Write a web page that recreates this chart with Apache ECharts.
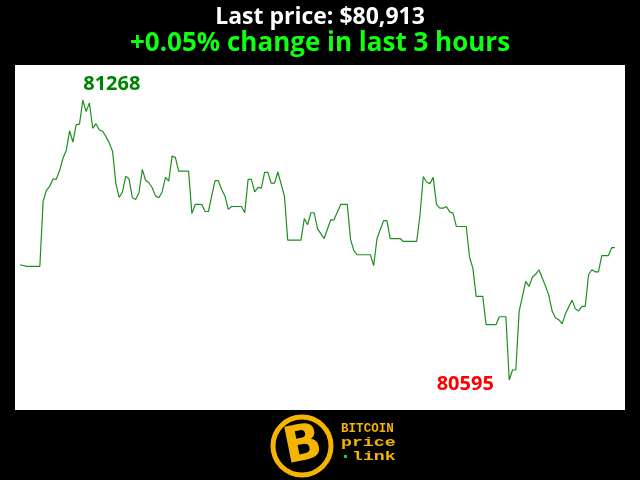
<!DOCTYPE html>
<html>
<head>
<meta charset="utf-8">
<script src="https://cdn.jsdelivr.net/npm/echarts@6/dist/echarts.min.js"></script>
<style>html,body{margin:0;padding:0;background:#000;}#c{width:640px;height:480px;}</style>
</head>
<body>
<div id="c"></div>
<script>
// minutes since start of the 3-hour window
var minutes = [0,2,6,7,8,9,10,11,12,13,14,15,16,17,18,19,20,21,22,23,24,25,26,27,28,29,30,31,32,33,34,35,36,37,38,39,40,41,42,43,44,45,46,47,48,51,52,53,55,56,57,59,60,61,62,63,64,67,68,69,70,71,72,73,74,75,76,77,78,80,81,85,86,87,88,89,90,92,94,95,97,99,100,101,102,106,107,108,110,111,112,115,116,120,121,122,123,124,125,126,127,128,129,130,131,132,135,136,137,138,140,141,144,145,147,148,149,150,151,153,154,155,156,157,158,159,160,161,162,163,164,165,167,168,169,170,171,172,173,174,175,176,178,179,180];
// BTC price (USD)
var prices = [80872,80868,80868,81025,81051,81061,81078,81078,81099,81128,81147,81194,81167,81209,81210,81268,81240,81261,81200,81211,81196,81193,81180,81165,81145,81067,81034,81047,81085,81078,81033,81029,81045,81101,81075,81069,81057,81037,81033,81047,81082,81073,81133,81130,81097,81097,80995,81017,81017,81000,81000,81074,81074,81053,81037,81005,81012,81012,80997,81077,81077,81047,81058,81056,81094,81094,81068,81068,81095,81037,80931,80931,80983,80968,80997,80997,80959,80935,80980,80980,81017,81017,80933,80906,80896,80896,80870,80935,80978,80978,80935,80935,80928,80928,80991,81084,81071,81067,81082,81017,81008,81008,81012,80999,80996,80964,80964,80890,80864,80796,80796,80728,80728,80747,80747,80595,80619,80619,80760,80832,80820,80842,80849,80860,80840,80820,80798,80760,80744,80740,80730,80754,80787,80766,80761,80772,80772,80848,80860,80855,80855,80894,80894,80913,80913];
var titleText = 'Last price: $80,913';
var subText = '+0.05% change in last 3 hours';

var data = minutes.map(function(m, i){ return [m, prices[i]]; });
var minP = Math.min.apply(null, prices), maxP = Math.max.apply(null, prices);

var chart = echarts.init(document.getElementById('c'), null, {renderer:'canvas'});
var yellow = '#F5B400';
chart.setOption({
  backgroundColor: '#000',
  animation: false,
  title: [
    {text: titleText, left: 'center', top: 6, padding: 0,
     textStyle: {color: '#fff', fontSize: 23, fontWeight: 'bold', fontFamily: 'Open Sans', lineHeight: 23}},
    {text: subText, left: 'center', top: 31, padding: 0,
     textStyle: {color: '#11ff11', fontSize: 26, fontWeight: 'bold', fontFamily: 'Open Sans', lineHeight: 26}}
  ],
  graphic: [
    {type: 'rect', left: 15, top: 65, z: -10, shape: {width: 610, height: 345}, style: {fill: '#fff'}},
    {type: 'circle', shape: {cx: 302, cy: 446, r: 29}, style: {fill: '#000', stroke: yellow, lineWidth: 5}},
    {type: 'text', x: 303, y: 447, rotation: 0.2,
     style: {text: 'B', fill: yellow, font: 'bold 50px "DejaVu Sans"', align: 'center', verticalAlign: 'middle'}},
    {type: 'text', x: 341, y: 429, scaleX: 1.05,
     style: {text: 'BITCOIN', fill: yellow, font: 'bold 12px "Liberation Mono"', align: 'left', verticalAlign: 'middle'}},
    {type: 'text', x: 341, y: 443, scaleX: 1.4,
     style: {text: 'price', fill: yellow, font: 'bold 13px "Liberation Mono"', align: 'left', verticalAlign: 'middle'}},
    {type: 'rect', shape: {x: 344, y: 455, width: 3, height: 3}, style: {fill: '#22cc22'}},
    {type: 'text', x: 352, y: 457, scaleX: 1.4,
     style: {text: 'link', fill: yellow, font: 'bold 13px "Liberation Mono"', align: 'left', verticalAlign: 'middle'}}
  ],
  grid: {left: 20, right: 25, top: 100, bottom: 100},
  xAxis: {type: 'value', min: 0, max: 180, show: false},
  yAxis: {type: 'value', min: minP, max: maxP, show: false, scale: true},
  series: [{
    type: 'line',
    data: data,
    showSymbol: false,
    lineStyle: {color: '#1f8f1f', width: 1.2},
    itemStyle: {color: '#1f8f1f'},
    markPoint: {
      symbol: 'circle', symbolSize: 0,
      data: [
        {type: 'max', valueDim: 'y',
         label: {show: true, position: 'inside', offset: [29, -16], formatter: function(p){return p.value;},
                 color: '#008000', fontSize: 20, fontWeight: 'bold', fontFamily: 'Open Sans'}},
        {type: 'min', valueDim: 'y',
         label: {show: true, position: 'inside', offset: [-44, 4], formatter: function(p){return p.value;},
                 color: '#ff0000', fontSize: 20, fontWeight: 'bold', fontFamily: 'Open Sans'}}
      ]
    }
  }]
});
</script>
</body>
</html>
